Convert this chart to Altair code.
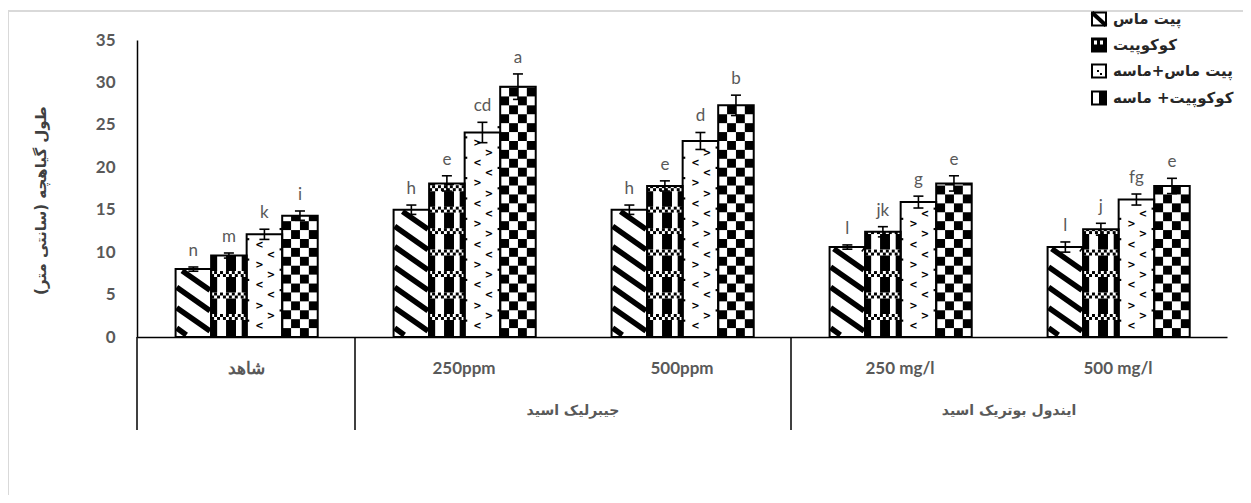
import altair as alt
import pandas as pd

# ---------------- data ----------------
groups = ["شاهد", "250ppm", "500ppm", "250 mg/l", "500 mg/l"]
super_groups = ["جیبرلیک اسید", "ایندول بوتریک اسید"]
super_centers = [2.0, 4.0]
separators = [0.0, 1.0, 3.0]
series = ["پیت ماس", "کوکوپیت", "پیت ماس+ماسه", "کوکوپیت+ ماسه"]

peat = [8.0, 15.0, 15.0, 10.6, 10.6]
coco = [9.6, 18.1, 17.8, 12.4, 12.7]
peat_sand = [12.1, 24.1, 23.1, 15.9, 16.2]
coco_sand = [14.3, 29.5, 27.3, 18.1, 17.8]

err_peat = [0.25, 0.55, 0.55, 0.25, 0.6]
err_coco = [0.3, 0.9, 0.6, 0.6, 0.7]
err_peat_sand = [0.6, 1.2, 1.0, 0.7, 0.65]
err_coco_sand = [0.55, 1.5, 1.2, 0.9, 0.9]

let_peat = ["n", "h", "h", "l", "l"]
let_coco = ["m", "e", "e", "jk", "j"]
let_peat_sand = ["k", "cd", "d", "g", "fg"]
let_coco_sand = ["i", "a", "b", "e", "e"]

y_ticks = [0, 5, 10, 15, 20, 25, 30, 35]

# ---------------- layout constants ----------------
W, H = 1090, 297
X_OFF = 0.177
BW = 0.163
GRAY = "#595959"

vals = [peat, coco, peat_sand, coco_sand]
errs = [err_peat, err_coco, err_peat_sand, err_coco_sand]
lets = [let_peat, let_coco, let_peat_sand, let_coco_sand]

rows = []
for k, s in enumerate(series):
    for g in range(len(groups)):
        x0 = g + X_OFF + k * BW
        v = vals[k][g]
        e = errs[k][g]
        xc = x0 + BW / 2
        rows.append(dict(series=s, k=k, x0=x0, x1=x0 + BW, xc=xc, v=v, zero=0.0,
                         lo=v - e, hi=v + e, c0=xc - 0.023, c1=xc + 0.023,
                         label=lets[k][g]))
bars = pd.DataFrame(rows)

# ---------------- pattern geometry derived from bars ----------------
prect = []
pstripe = []
ptext = []

for r in rows:
    x0, x1, v, k = r["x0"], r["x1"], r["v"], r["k"]
    if k == 0:
        S = 18.0
        STEP = 2.4
        xa, xb = x0 + 0.005, x1 - 0.005
        ya, yb = 0.25, v - 0.2
        w = xb - xa
        c = ya + 0.8
        while c - S * w < yb + STEP:
            if c > ya:
                if c <= yb:
                    xs_, ys_ = xa, c
                else:
                    xs_, ys_ = xa + (c - yb) / S, yb
                if c - S * w >= ya:
                    xe_, ye_ = xb, c - S * w
                else:
                    xe_, ye_ = xa + (c - ya) / S, ya
                if xe_ > xs_:
                    pstripe.append(dict(x=xs_, x2=xe_, y=ys_, y2=ye_))
            c += STEP
    elif k == 1:
        for f0, f1 in [(0.0, 0.17), (0.42, 0.70), (0.86, 1.0)]:
            prect.append(dict(x=x0 + f0 * BW, x2=x0 + f1 * BW, y=0.0, y2=v, color="black"))
        c = 2.36
        while c - 0.35 < v:
            b0, b1 = c - 0.35, min(c + 0.35, v)
            prect.append(dict(x=x0, x2=x1, y=b0, y2=b1, color="white"))
            cw = BW / 12
            for j in range(2):
                yy0 = b0 + j * 0.35
                yy1 = min(yy0 + 0.35, b1)
                if yy1 <= yy0:
                    continue
                for i in range(12):
                    if (i + j) % 2 == 0:
                        prect.append(dict(x=x0 + i * cw, x2=x0 + (i + 1) * cw,
                                          y=yy0, y2=yy1, color="black"))
            c += 2.53
    elif k == 2:
        n = 0
        yy = 1.3
        while yy < v - 0.5:
            ptext.append(dict(x=x0 + 0.36 * BW, y=yy, t="<" if n % 2 == 0 else ">"))
            if yy + 1.2 < v - 0.5:
                ptext.append(dict(x=x0 + 0.68 * BW, y=yy + 1.2, t=">" if n % 2 == 0 else "<"))
            yy += 2.4
            n += 1
        yy = 1.8
        while yy < v - 0.4:
            prect.append(dict(x=x0, x2=x0 + 0.012, y=yy, y2=yy + 0.25, color="black"))
            prect.append(dict(x=x1 - 0.012, x2=x1, y=yy + 1.2, y2=yy + 1.45, color="black"))
            yy += 2.4
    else:
        cw = BW / 4
        rh = 1.05
        j = 0
        while j * rh < v:
            for i in range(4):
                if (i + j) % 2 == 0:
                    prect.append(dict(x=x0 + i * cw, x2=x0 + (i + 1) * cw,
                                      y=j * rh, y2=min((j + 1) * rh, v), color="black"))
            j += 1

prect = pd.DataFrame(prect)
pstripe = pd.DataFrame(pstripe)
ptext = pd.DataFrame(ptext)

xs = alt.Scale(domain=[0, 5], nice=False, zero=False)
ys = alt.Scale(domain=[0, 35], nice=False)

XAX = alt.Axis(labels=False, ticks=False, grid=False, title=None,
               domainColor="black", domainWidth=1.5)
YAX = alt.Axis(values=y_ticks, grid=False, ticks=False,
               domainColor="black", domainWidth=1.5,
               labelFont="Lato", labelFontSize=17, labelFontWeight="bold",
               labelColor=GRAY, labelPadding=22,
               title="طول گیاهچه (سانتی متر)", titleFont="DejaVu Sans",
               titleFontSize=15, titleFontWeight="bold", titleColor="#404040",
               titleX=-97, titleY=160, titleBaseline="middle")


def X(f):
    return alt.X(f, scale=xs, axis=XAX)


def Y(f):
    return alt.Y(f, scale=ys, axis=YAX)


one = pd.DataFrame({"k": [0]})

# ---------------- layers ----------------
frame = alt.Chart(one).mark_rect(filled=False, stroke="#d9d9d9", strokeWidth=2).encode(
    x=alt.value(-129), x2=alt.value(1300), y=alt.value(-29), y2=alt.value(700))

white_bars = alt.Chart(bars).mark_rect(fill="white").encode(
    x=X("x0:Q"), x2="x1:Q", y=Y("v:Q"), y2="zero:Q")

pat_rects = alt.Chart(prect).mark_rect(strokeWidth=0).encode(
    x=X("x:Q"), x2="x2:Q", y=Y("y:Q"), y2="y2:Q",
    fill=alt.Fill("color:N", scale=None))

pat_stripes = alt.Chart(pstripe).mark_rule(strokeWidth=5.5, strokeCap="butt", color="black").encode(
    x=X("x:Q"), x2="x2:Q", y=Y("y:Q"), y2="y2:Q")

pat_text = alt.Chart(ptext).mark_text(font="DejaVu Sans", fontSize=10, fontWeight="bold",
                                      color="black", baseline="middle", align="center").encode(
    x=X("x:Q"), y=Y("y:Q"), text="t:N")

outline = alt.Chart(bars).mark_rect(filled=False, stroke="black", strokeWidth=2).encode(
    x=X("x0:Q"), x2="x1:Q", y=Y("v:Q"), y2="zero:Q")

err_line = alt.Chart(bars).mark_rule(color="black", strokeWidth=1.6).encode(
    x=X("xc:Q"), y=Y("lo:Q"), y2="hi:Q")
err_cap_hi = alt.Chart(bars).mark_rule(color="black", strokeWidth=1.6).encode(
    x=X("c0:Q"), x2="c1:Q", y=Y("hi:Q"))
err_cap_lo = alt.Chart(bars).mark_rule(color="black", strokeWidth=1.6).encode(
    x=X("c0:Q"), x2="c1:Q", y=Y("lo:Q"))

letters = alt.Chart(bars).mark_text(font="Lato", fontSize=17, color=GRAY,
                                    baseline="alphabetic", align="center", dy=-11).encode(
    x=X("xc:Q"), y=Y("hi:Q"), text="label:N")

cat_df = pd.DataFrame({"x": [g + 0.5 for g in range(len(groups))], "label": groups})
cat_lab = alt.Chart(cat_df).mark_text(font="Lato", fontSize=17, fontWeight="bold", color=GRAY,
                                      baseline="middle", align="center").encode(
    x=X("x:Q"), y=alt.value(329), text="label:N")

sup_df = pd.DataFrame({"x": super_centers, "label": super_groups})
sup_lab = alt.Chart(sup_df).mark_text(font="DejaVu Sans", fontSize=14, fontWeight="bold", color=GRAY,
                                      baseline="middle", align="center").encode(
    x=X("x:Q"), y=alt.value(371), text="label:N")

sep_df = pd.DataFrame({"x": separators})
seps = alt.Chart(sep_df).mark_rule(color="black", strokeWidth=1.5).encode(
    x=X("x:Q"), y=alt.value(H), y2=alt.value(390))

# ---------------- legend (drawn manually, pixel placed) ----------------
leg_y = [-21, 5, 31, 58]
LX0, LX1 = 955, 969


def box(x0, x1, y0, y1, fill=None, stroke=None, sw=0):
    kw = {}
    if fill is not None:
        kw["fill"] = fill
    else:
        kw["filled"] = False
    if stroke is not None:
        kw["stroke"] = stroke
        kw["strokeWidth"] = sw
    else:
        kw["strokeWidth"] = 0
    return alt.Chart(one).mark_rect(**kw).encode(
        x=alt.value(x0), x2=alt.value(x1), y=alt.value(y0), y2=alt.value(y1))


legend_layers = []
for i, yc in enumerate(leg_y):
    t, b = yc - 6.5, yc + 6.5
    if i == 0:
        legend_layers.append(box(LX0, LX1, t, b, fill="white"))
        legend_layers.append(alt.Chart(one).mark_rule(color="black", strokeWidth=4).encode(
            x=alt.value(LX0), x2=alt.value(LX1), y=alt.value(t), y2=alt.value(b)))
    elif i == 1:
        legend_layers.append(box(LX0, LX1, t, b, fill="black"))
        legend_layers.append(box(LX0 + 2, LX0 + 5, t + 2, t + 6, fill="white"))
        legend_layers.append(box(LX0 + 8, LX0 + 11, t + 2, t + 6, fill="white"))
    elif i == 2:
        legend_layers.append(box(LX0, LX1, t, b, fill="white"))
        legend_layers.append(box(LX0 + 5, LX0 + 7, yc - 1, yc + 1, fill="black"))
        legend_layers.append(box(LX0 + 8, LX0 + 10, yc + 2, yc + 4, fill="black"))
    else:
        legend_layers.append(box(LX0, LX1, t, b, fill="white"))
        legend_layers.append(box(LX0 + 7, LX1, t, b, fill="black"))
    legend_layers.append(box(LX0, LX1, t, b, stroke="black", sw=2))

leg_text_layers = []
for i, s in enumerate(series):
    leg_text_layers.append(alt.Chart(one).mark_text(
        font="DejaVu Sans", fontSize=15, fontWeight="bold", color="#262626",
        align="left", baseline="middle", text=s).encode(
        x=alt.value(LX1 + 7), y=alt.value(leg_y[i])))

chart = alt.layer(
    white_bars, frame, pat_rects, pat_stripes, pat_text, outline,
    err_line, err_cap_hi, err_cap_lo, letters, cat_lab, sup_lab, seps,
    *legend_layers, *leg_text_layers
).properties(
    width=W, height=H,
    autosize=alt.AutoSizeParams(type="none"),
    padding={"left": 129, "top": 32, "right": 16, "bottom": 158},
).configure(background="white").configure_view(strokeWidth=0)

chart.save("out.html", embed_options={"renderer": "svg", "actions": False})
